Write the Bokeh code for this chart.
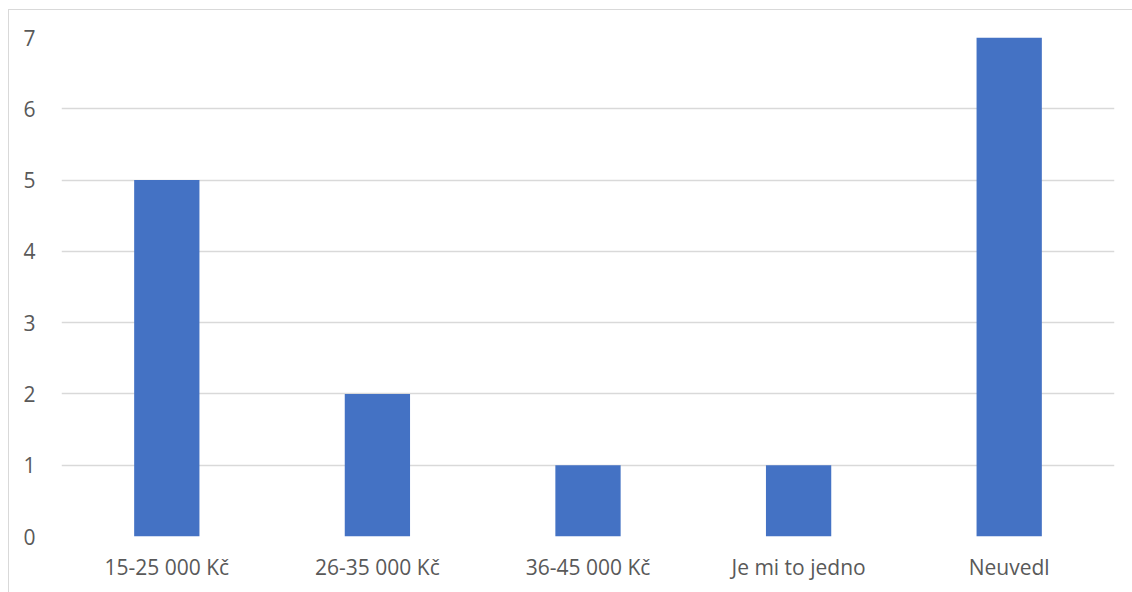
from bokeh.plotting import figure
from bokeh.models import ColumnDataSource, FactorRange, Range1d, FixedTicker
from bokeh.embed import file_html
from bokeh.resources import INLINE

categories = ["15-25 000 Kč", "26-35 000 Kč", "36-45 000 Kč", "Je mi to jedno", "Neuvedl"]
counts = [5, 2, 1, 1, 7]
y_ticks = [0, 1, 2, 3, 4, 5, 6, 7]

src = ColumnDataSource(dict(cat=categories, val=counts))

p = figure(x_range=FactorRange(*categories, range_padding=0),
           y_range=Range1d(0, 7),
           width=1124, height=583,
           output_backend="svg", toolbar_location=None,
           min_border_left=52, min_border_right=19,
           min_border_top=27, min_border_bottom=57)
p.margin = (9, 0, 0, 8)
p.styles = {"border-left": "1px solid #d9d9d9", "border-top": "1px solid #d9d9d9"}

p.vbar(x="cat", top="val", width=0.31, source=src, color="#4472C4", line_color=None)

p.outline_line_color = None
p.xgrid.grid_line_color = None
p.ygrid.grid_line_color = "#d9d9d9"
p.ygrid.grid_line_width = 1.3
p.yaxis.ticker = FixedTicker(ticks=y_ticks)

for ax in (p.xaxis, p.yaxis):
    ax.axis_line_color = None
    ax.major_tick_line_color = None
    ax.minor_tick_line_color = None
    ax.major_label_text_font = "Open Sans"
    ax.major_label_text_font_size = "21px"
    ax.major_label_text_color = "#595959"
p.yaxis.major_label_standoff = 20
p.xaxis.major_label_standoff = 10

open("out.html", "w").write(file_html(p, INLINE))
